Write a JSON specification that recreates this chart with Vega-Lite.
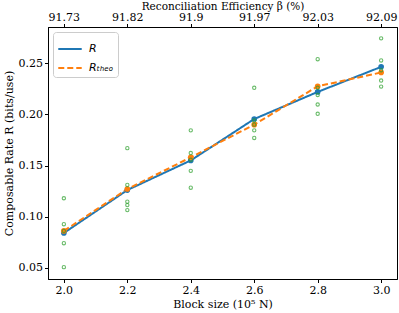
{
  "$schema": "https://vega.github.io/schema/vega-lite/v6.json",
  "width": 349,
  "height": 252,
  "autosize": "none",
  "padding": {"left": 48, "top": 27, "right": 2, "bottom": 34},
  "config": {
    "font": "DejaVu Serif",
    "view": {"stroke": "#000", "strokeWidth": 1},
    "axis": {
      "grid": false,
      "domainColor": "#000",
      "tickColor": "#000",
      "tickSize": 3.5,
      "labelColor": "#000",
      "titleColor": "#000",
      "labelFontSize": 11,
      "titleFontSize": 11,
      "titleFontWeight": "normal",
      "labelFont": "DejaVu Serif",
      "titleFont": "DejaVu Serif",
      "labelPadding": 2
    }
  },
  "datasets": {
    "lines": [
      {"block": 2.0, "series": "R", "rate": 0.084},
      {"block": 2.2, "series": "R", "rate": 0.126},
      {"block": 2.4, "series": "R", "rate": 0.155},
      {"block": 2.6, "series": "R", "rate": 0.1955},
      {"block": 2.8, "series": "R", "rate": 0.222},
      {"block": 3.0, "series": "R", "rate": 0.2465},
      {"block": 2.0, "series": "Rₜₕₑₒ", "rate": 0.086},
      {"block": 2.2, "series": "Rₜₕₑₒ", "rate": 0.127},
      {"block": 2.4, "series": "Rₜₕₑₒ", "rate": 0.158},
      {"block": 2.6, "series": "Rₜₕₑₒ", "rate": 0.190},
      {"block": 2.8, "series": "Rₜₕₑₒ", "rate": 0.2275},
      {"block": 3.0, "series": "Rₜₕₑₒ", "rate": 0.241}
    ],
    "trials": [
      {"block": 2.0, "rate": 0.118}, {"block": 2.0, "rate": 0.0926}, {"block": 2.0, "rate": 0.086}, {"block": 2.0, "rate": 0.074}, {"block": 2.0, "rate": 0.0506},
      {"block": 2.2, "rate": 0.167}, {"block": 2.2, "rate": 0.131}, {"block": 2.2, "rate": 0.1146}, {"block": 2.2, "rate": 0.1113}, {"block": 2.2, "rate": 0.1064},
      {"block": 2.4, "rate": 0.1844}, {"block": 2.4, "rate": 0.1622}, {"block": 2.4, "rate": 0.1556}, {"block": 2.4, "rate": 0.1448}, {"block": 2.4, "rate": 0.1283},
      {"block": 2.6, "rate": 0.226}, {"block": 2.6, "rate": 0.194}, {"block": 2.6, "rate": 0.190}, {"block": 2.6, "rate": 0.1844}, {"block": 2.6, "rate": 0.177},
      {"block": 2.8, "rate": 0.254}, {"block": 2.8, "rate": 0.226}, {"block": 2.8, "rate": 0.219}, {"block": 2.8, "rate": 0.2097}, {"block": 2.8, "rate": 0.2006},
      {"block": 3.0, "rate": 0.2744}, {"block": 3.0, "rate": 0.2528}, {"block": 3.0, "rate": 0.2432}, {"block": 3.0, "rate": 0.2331}, {"block": 3.0, "rate": 0.2272}
    ]
  },
  "layer": [
    {
      "data": {"name": "lines"},
      "mark": {"type": "line", "strokeWidth": 2, "point": {"filled": true, "size": 32}},
      "encoding": {
        "x": {
          "field": "block", "type": "quantitative",
          "scale": {"domain": [1.95, 3.05], "nice": false, "zero": false},
          "axis": {"orient": "bottom", "values": [2.0, 2.2, 2.4, 2.6, 2.8, 3.0], "format": ".1f", "title": "Block size (10⁵ N)", "titlePadding": 3}
        },
        "y": {
          "field": "rate", "type": "quantitative",
          "scale": {"domain": [0.039, 0.2855], "nice": false, "zero": false},
          "axis": {"values": [0.05, 0.10, 0.15, 0.20, 0.25], "format": ".2f", "title": "Composable Rate R (bits/use)", "titlePadding": 4}
        },
        "color": {
          "field": "series", "type": "nominal",
          "scale": {"domain": ["R", "Rₜₕₑₒ"], "range": ["#1f77b4", "#ff7f0e"]},
          "legend": {
            "title": null, "orient": "top-left", "offset": 5,
            "fillColor": "#fff", "strokeColor": "#ccc", "cornerRadius": 3, "padding": 4,
            "symbolType": "stroke", "symbolStrokeWidth": 2, "symbolSize": 550,
            "labelFont": "DejaVu Sans", "labelFontStyle": "italic", "labelFontSize": 11, "labelColor": "#000",
            "rowPadding": 1, "labelOffset": 6
          }
        },
        "strokeDash": {
          "field": "series", "type": "nominal",
          "scale": {"domain": ["R", "Rₜₕₑₒ"], "range": [[1, 0], [6, 3]]},
          "legend": {
            "title": null, "orient": "top-left", "offset": 5,
            "fillColor": "#fff", "strokeColor": "#ccc", "cornerRadius": 3, "padding": 4,
            "symbolType": "stroke", "symbolStrokeWidth": 2, "symbolSize": 550,
            "labelFont": "DejaVu Sans", "labelFontStyle": "italic", "labelFontSize": 11, "labelColor": "#000",
            "rowPadding": 1, "labelOffset": 6
          }
        }
      }
    },
    {
      "data": {"name": "trials"},
      "mark": {"type": "point", "shape": "circle", "filled": false, "size": 11, "strokeWidth": 1.1, "color": "#2ca02c"},
      "encoding": {
        "x": {
          "field": "block", "type": "quantitative",
          "scale": {"domain": [1.95, 3.05], "nice": false, "zero": false},
          "axis": {
            "orient": "top", "values": [2.0, 2.2, 2.4, 2.6, 2.8, 3.0],
            "labelExpr": "round(datum.value*10)==20?'91.73':round(datum.value*10)==22?'91.82':round(datum.value*10)==24?'91.9':round(datum.value*10)==26?'91.97':round(datum.value*10)==28?'92.03':'92.09'",
            "title": "Reconciliation Efficiency β (%)", "titlePadding": 0, "labelPadding": 1, "titleFontSize": 10.5
          }
        },
        "y": {"field": "rate", "type": "quantitative"}
      }
    }
  ],
  "resolve": {"axis": {"x": "independent"}}
}
